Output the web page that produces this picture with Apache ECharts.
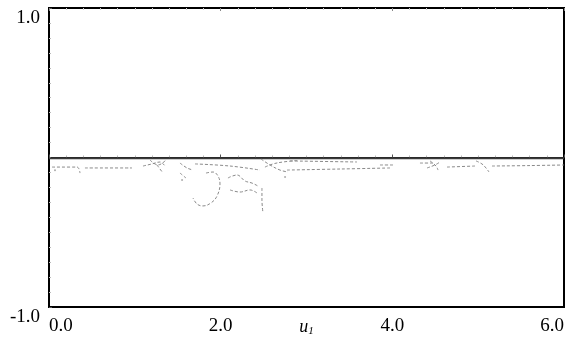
<!DOCTYPE html>
<html><head><meta charset="utf-8">
<script src="https://cdn.jsdelivr.net/npm/echarts@6/dist/echarts.min.js"></script>
<style>html,body{margin:0;padding:0;background:#fff}#c{width:580px;height:337px}</style>
</head><body><div id="c"></div>
<script>
// Axis ticks
const xTicks = [0, 2, 4, 6];
const yTicks = [-1, 1];

// Branches: [u1, value]
const mainBranch = [[0, -0.005], [6, -0.005]];
const lowA = [[0.035, -0.064], [0.326, -0.064], [0.361, -0.104]];
const lowB = [[0.419, -0.070], [0.967, -0.070]];
const lowC = [[1.095, -0.057], [1.200, -0.043], [1.293, -0.030], [1.351, -0.057]];
const lowD = [[1.258, -0.050], [1.328, -0.104]];
const vShape = [[1.177, -0.017], [1.270, -0.050], [1.363, -0.017]];
const dotsE = [[1.526, -0.037], [1.608, -0.070], [1.678, -0.084]];
const dotsF = [[1.526, -0.104], [1.596, -0.137]];
const midDash = [[1.701, -0.043], [2.109, -0.057], [2.458, -0.084]];
const loopG = [[1.829, -0.104], [1.911, -0.097], [1.969, -0.124], [1.992, -0.177], [1.957, -0.258],
               [1.887, -0.304], [1.794, -0.324], [1.724, -0.311], [1.678, -0.271]];
const upperH = [[2.085, -0.137], [2.190, -0.117], [2.283, -0.157], [2.365, -0.171], [2.435, -0.191]];
const lowerH = [[2.109, -0.217], [2.225, -0.231], [2.342, -0.217], [2.423, -0.237]];
const dotsCol = [[2.481, -0.204], [2.481, -0.284], [2.493, -0.371]];
const arcI = [[2.470, -0.010], [2.575, -0.050], [2.691, -0.084], [2.784, -0.097]];
const arcJ = [[2.516, -0.064], [2.610, -0.043], [2.727, -0.030], [2.890, -0.020]];
const lineK = [[2.773, -0.084], [3.390, -0.077], [3.973, -0.070]];
const lineL = [[2.808, -0.023], [3.588, -0.030]];
const lineM = [[3.856, -0.050], [4.008, -0.050]];
const rightN = [[4.322, -0.037], [4.474, -0.037]];
const crossO = [[4.404, -0.070], [4.497, -0.050], [4.555, -0.030]];
const crossP = [[4.439, -0.023], [4.509, -0.057], [4.532, -0.084]];
const rightQ = [[4.637, -0.064], [4.963, -0.057]];
const curveR = [[4.975, -0.023], [5.044, -0.043], [5.091, -0.070], [5.126, -0.097]];
const rightS = [[5.161, -0.057], [5.604, -0.054], [6.0, -0.050]];
const loneDots = [[2.750, -0.130], [1.550, -0.150], [0.07, -0.085]];

const branches = [lowA, lowB, lowC, lowD, vShape, dotsE, dotsF, midDash, loopG, upperH, lowerH,
  dotsCol, arcI, arcJ, lineK, lineL, lineM, rightN, crossO, crossP, rightQ, curveR, rightS];

const serif = 'Liberation Serif, Times New Roman, serif';
const series = [{
  type: 'line', data: mainBranch, symbol: 'none', silent: true,
  lineStyle: { color: '#3a3a3a', width: 2 }
}];
branches.forEach(b => series.push({
  type: 'line', data: b, symbol: 'none', smooth: 0.4, silent: true,
  lineStyle: { color: '#8a8a8a', width: 1, type: [3, 2] }
}));
series.push({ type: 'scatter', data: loneDots, symbolSize: 2, itemStyle: { color: '#999' }, silent: true });

const chart = echarts.init(document.getElementById('c'));
chart.setOption({
  animation: false,
  backgroundColor: '#fff',
  grid: { left: 49, right: 16, top: 8, bottom: 30, show: true, borderColor: '#000', borderWidth: 2,
          containLabel: false, outerBoundsMode: 'none' },
  xAxis: [{
    type: 'value', min: xTicks[0], max: xTicks[xTicks.length - 1], interval: 2,
    axisLine: { show: true, lineStyle: { color: '#000', width: 2 } },
    axisTick: { show: true, inside: true, length: 3, lineStyle: { color: '#555' } },
    minorTick: { show: true, splitNumber: 10, length: 2, lineStyle: { color: '#bbb' } },
    splitLine: { show: false },
    axisLabel: {
      formatter: v => v.toFixed(1), color: '#000', fontFamily: serif, fontSize: 19, margin: 10,
      alignMinLabel: 'left', alignMaxLabel: 'right'
    },
    name: '{i|u}{s|1}', nameLocation: 'middle', nameGap: 11, nameMoveOverlap: false,
    nameTextStyle: {
      rich: {
        i: { fontFamily: serif, fontStyle: 'italic', fontSize: 18, color: '#000' },
        s: { fontFamily: serif, fontStyle: 'italic', fontSize: 11, color: '#000', padding: [8, 0, 0, 0] }
      }
    }
  }, {
    type: 'value', position: 'top', min: 0, max: 6, interval: 2,
    axisLine: { show: true, lineStyle: { color: '#000', width: 2 } },
    axisTick: { show: true, inside: true, length: 3, lineStyle: { color: '#888' } },
    minorTick: { show: true, splitNumber: 10, length: 2, lineStyle: { color: '#ccc' } },
    splitLine: { show: false }, axisLabel: { show: false }
  }],
  yAxis: [{
    type: 'value', min: yTicks[0], max: yTicks[1], interval: 2,
    axisLine: { show: true, lineStyle: { color: '#000', width: 2 } },
    axisTick: { show: true, inside: true, length: 3, lineStyle: { color: '#555' } },
    minorTick: { show: true, splitNumber: 20, length: 2, lineStyle: { color: '#bbb' } },
    splitLine: { show: false },
    axisLabel: {
      formatter: v => v.toFixed(1), color: '#000', fontFamily: serif, fontSize: 19, margin: 9,
      verticalAlignMaxLabel: 'top', verticalAlignMinLabel: 'top', padding: [1, 0, 0, 0]
    }
  }],
  series: series
});
</script></body></html>
